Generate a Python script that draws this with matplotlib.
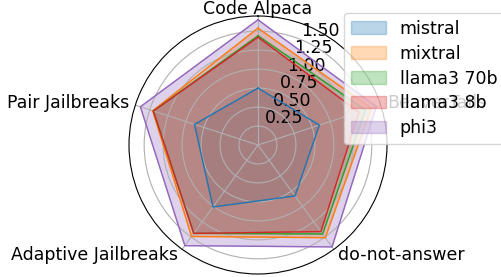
import numpy as np
import matplotlib
matplotlib.use("Agg")
import matplotlib.pyplot as plt

plt.rcParams['font.size'] = 12.5

# categories, clockwise from the top
categories = ['Code Alpaca', 'BeaverTails', 'do-not-answer', 'Adaptive Jailbreaks', 'Pair Jailbreaks']

# scores per model
mistral = [0.75, 0.85, 0.83, 1.01, 0.88]
mixtral = [1.54, 1.57, 1.51, 1.49, 1.46]
llama3_70b = [1.44, 1.49, 1.45, 1.44, 1.45]
llama3_8b = [1.42, 1.40, 1.41, 1.44, 1.45]
phi3 = [1.65, 1.64, 1.66, 1.64, 1.63]

models = ['mistral', 'mixtral', 'llama3 70b', 'llama3 8b', 'phi3']
scores = [mistral, mixtral, llama3_70b, llama3_8b, phi3]

angles = np.linspace(0, 2 * np.pi, len(categories), endpoint=False).tolist()
angles += angles[:1]

fig = plt.figure(figsize=(5.01, 2.77), dpi=100)
ax = fig.add_axes([129 / 501, 3 / 277, 258 / 501, 258 / 277], polar=True)
ax.set_theta_offset(np.pi / 2)
ax.set_theta_direction(-1)

for name, vals in zip(models, scores):
    v = vals + vals[:1]
    line, = ax.plot(angles, v, linewidth=1)
    ax.fill(angles, v, color=line.get_color(), alpha=0.3, label=name)

ax.set_xticks(angles[:-1])
ax.set_xticklabels(categories)
ax.tick_params(axis='x', pad=-5.7)
# align category labels away from the circle
for lab, ang in zip(ax.get_xticklabels(), angles[:-1]):
    if np.isclose(ang, 0) or np.isclose(ang, np.pi):
        lab.set_horizontalalignment('center')
    elif ang < np.pi:
        lab.set_horizontalalignment('left')
    else:
        lab.set_horizontalalignment('right')
ax.set_ylim(0, 1.70)

fig.legend(loc='upper left', bbox_to_anchor=(344 / 501, 1 - 12.7 / 277),
           bbox_transform=fig.transFigure, borderaxespad=0, labelspacing=0.4)

fig.savefig('out.png', dpi=100)
